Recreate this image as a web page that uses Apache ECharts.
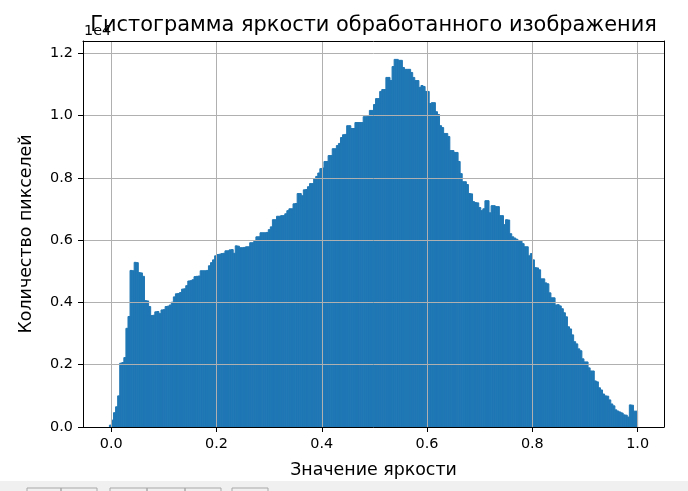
<!DOCTYPE html>
<html><head><meta charset="utf-8">
<script src="https://cdn.jsdelivr.net/npm/echarts@6/dist/echarts.min.js"></script>
<style>html,body{margin:0;padding:0;background:#fff}#c{width:688px;height:491px}</style>
</head><body><div id="c"></div>
<script>
const TITLE = 'Гистограмма яркости обработанного изображения';
const X_NAME = 'Значение яркости';
const Y_NAME = 'Количество пикселей';
const Y_OFFSET_TEXT = '1e4';
const X_TICKS = [0, 0.2, 0.4, 0.6, 0.8, 1.0];
const Y_TICKS = [0, 2000, 4000, 6000, 8000, 10000, 12000];
// histogram range (bin edges span this interval)
const BIN_RANGE = [-0.0035, 1.0];
// pixel counts per bin (256 bins)
const COUNTS = [
  60, 220, 460, 650, 1000, 2050, 2070, 2230, 3170, 3550,
  5030, 5020, 5290, 5280, 4960, 4950, 4840, 4060, 4050, 3870,
  3580, 3590, 3700, 3710, 3640, 3760, 3770, 3870, 3880, 3920,
  4010, 4180, 4280, 4290, 4320, 4430, 4440, 4540, 4690, 4700,
  4730, 4830, 4840, 4850, 5020, 5020, 5020, 5030, 5180, 5280,
  5370, 5500, 5540, 5550, 5570, 5580, 5660, 5660, 5690, 5700,
  5580, 5820, 5810, 5760, 5760, 5770, 5790, 5790, 5920, 5920,
  5980, 6110, 6110, 6240, 6240, 6240, 6250, 6340, 6430, 6660,
  6660, 6770, 6770, 6790, 6790, 6850, 6950, 7010, 7010, 7170,
  7180, 7500, 7500, 7430, 7620, 7630, 7720, 7820, 7820, 7970,
  8050, 8160, 8300, 8320, 8530, 8530, 8720, 8720, 8940, 8940,
  9040, 9110, 9300, 9390, 9400, 9680, 9680, 9590, 9590, 9780,
  9780, 9780, 9780, 9970, 9970, 9980, 10170, 10170, 10360, 10550,
  10550, 10780, 10840, 10840, 11230, 11230, 11130, 11580, 11810, 11810,
  11780, 11780, 11550, 11490, 11490, 11490, 11390, 11230, 11130, 11130,
  10910, 10970, 10940, 10780, 10780, 10390, 10420, 10420, 10130, 10040,
  9680, 9620, 9430, 9430, 9330, 8880, 8880, 8820, 8820, 8530,
  8140, 7880, 7880, 7790, 7500, 7490, 7240, 7210, 7200, 7050,
  6950, 7010, 7270, 7270, 6880, 7110, 7110, 7080, 7080, 6790,
  6790, 6500, 6660, 6650, 6210, 6110, 6070, 6030, 5970, 5970,
  5890, 5790, 5790, 5500, 5570, 5370, 5120, 5110, 5050, 4760,
  4760, 4630, 4600, 4310, 4150, 4150, 3920, 3930, 3890, 3800,
  3670, 3540, 3220, 3150, 2960, 2740, 2670, 2510, 2450, 2190,
  2090, 2090, 1900, 1800, 1800, 1480, 1450, 1260, 1190, 1060,
  1000, 990, 870, 740, 680, 550, 510, 480, 450, 390,
  380, 320, 710, 700, 510, 510
];

const FONT = 'DejaVu Sans';
const BAR_COLOR = '#1f77b4';
const GRID_COLOR = '#b0b0b0';

// axes box in page pixels
const PL = 83, PR = 664, PT = 41, PB = 427;

const nBins = COUNTS.length;
const binW = (BIN_RANGE[1] - BIN_RANGE[0]) / nBins;
const binData = COUNTS.map((c, i) => [BIN_RANGE[0] + i * binW, BIN_RANGE[0] + (i + 1) * binW, c]);

const span = BIN_RANGE[1] - BIN_RANGE[0];
const xMin = BIN_RANGE[0] - 0.05 * span;
const xMax = BIN_RANGE[1] + 0.05 * span;
const yMax = Math.max.apply(null, COUNTS) * 1.05;
const toPx = v => PL + (v - xMin) / (xMax - xMin) * (PR - PL);
const g1L = toPx(X_TICKS[0]), g1R = toPx(X_TICKS[X_TICKS.length - 1]);

const blackLine = {show: true, onZero: false, lineStyle: {color: '#000', width: 1}};
const off = {show: false};
const tickStyle = {show: true, length: 5, inside: false, lineStyle: {color: '#000', width: 1}};
const labelStyle = {fontFamily: FONT, fontSize: 14.4, color: '#000', margin: 10};

const chart = echarts.init(document.getElementById('c'), null, {renderer: 'canvas'});
chart.setOption({
  animation: false,
  backgroundColor: '#fff',
  title: [
    {text: TITLE, left: (PL + PR) / 2, top: 15, textAlign: 'center', padding: 0,
     textStyle: {fontFamily: FONT, fontSize: 20.9, fontWeight: 'normal', color: '#000'}},
    {text: Y_OFFSET_TEXT, left: PL + 1, top: 24, padding: 0,
     textStyle: {fontFamily: FONT, fontSize: 14.4, fontWeight: 'normal', color: '#000'}}
  ],
  grid: [
    {left: PL, top: PT, width: PR - PL, height: PB - PT, containLabel: false},
    {left: g1L, top: PT, width: g1R - g1L, height: PB - PT, containLabel: false}
  ],
  xAxis: [
    {gridIndex: 0, type: 'value', min: xMin, max: xMax, position: 'bottom', z: 5,
     axisLine: blackLine, axisTick: off, axisLabel: off, splitLine: off,
     name: X_NAME, nameLocation: 'middle', nameGap: 35,
     nameTextStyle: {fontFamily: FONT, fontSize: 17.4, color: '#000'}},
    {gridIndex: 0, type: 'value', min: xMin, max: xMax, position: 'top', z: 5,
     axisLine: blackLine, axisTick: off, axisLabel: off, splitLine: off},
    {gridIndex: 1, type: 'value', min: 0, max: 1, interval: 0.2, position: 'bottom', z: 4,
     axisLine: {show: false}, axisTick: Object.assign({customValues: X_TICKS}, tickStyle),
     axisLabel: Object.assign({customValues: X_TICKS, formatter: v => v.toFixed(1)}, labelStyle),
     splitLine: {show: true, lineStyle: {color: GRID_COLOR, width: 1}}}
  ],
  yAxis: [
    {gridIndex: 0, type: 'value', min: 0, max: yMax, interval: 2000, position: 'left', z: 5,
     axisLine: blackLine, axisTick: Object.assign({customValues: Y_TICKS}, tickStyle),
     axisLabel: Object.assign({customValues: Y_TICKS, formatter: v => (v / 1e4).toFixed(1)}, labelStyle),
     splitLine: {show: true, lineStyle: {color: GRID_COLOR, width: 1}},
     name: Y_NAME, nameLocation: 'middle', nameGap: 48, nameRotate: 90,
     nameTextStyle: {fontFamily: FONT, fontSize: 17.4, color: '#000'}},
    {gridIndex: 0, type: 'value', min: 0, max: yMax, position: 'right', z: 5,
     axisLine: blackLine, axisTick: off, axisLabel: off, splitLine: off},
    {gridIndex: 1, type: 'value', min: 0, max: yMax, show: false}
  ],
  series: [{
    type: 'custom', xAxisIndex: 0, yAxisIndex: 0, z: 2, silent: true,
    data: binData,
    encode: {x: [0, 1], y: 2},
    renderItem: (params, api) => {
      const a = api.coord([api.value(0), api.value(2)]);
      const b = api.coord([api.value(1), 0]);
      return {type: 'rect', shape: {x: a[0], y: a[1], width: b[0] - a[0], height: b[1] - a[1]},
              style: {fill: BAR_COLOR, stroke: BAR_COLOR, lineWidth: 1}};
    }
  }],
  graphic: [
    {type: 'rect', silent: true, shape: {x: 0, y: 481, width: 688, height: 10}, style: {fill: '#f0f0f0'}},
    {type: 'rect', silent: true, shape: {x: 27, y: 488, width: 34, height: 10}, style: {fill: 'none', stroke: '#a8a8a8', lineWidth: 1}},
    {type: 'rect', silent: true, shape: {x: 61, y: 488, width: 36, height: 10}, style: {fill: 'none', stroke: '#a8a8a8', lineWidth: 1}},
    {type: 'rect', silent: true, shape: {x: 110, y: 488, width: 37, height: 10}, style: {fill: 'none', stroke: '#a8a8a8', lineWidth: 1}},
    {type: 'rect', silent: true, shape: {x: 147, y: 488, width: 38, height: 10}, style: {fill: 'none', stroke: '#a8a8a8', lineWidth: 1}},
    {type: 'rect', silent: true, shape: {x: 185, y: 488, width: 36, height: 10}, style: {fill: 'none', stroke: '#a8a8a8', lineWidth: 1}},
    {type: 'rect', silent: true, shape: {x: 232, y: 488, width: 36, height: 10}, style: {fill: 'none', stroke: '#a8a8a8', lineWidth: 1}}
  ]
});
</script>
</body></html>
